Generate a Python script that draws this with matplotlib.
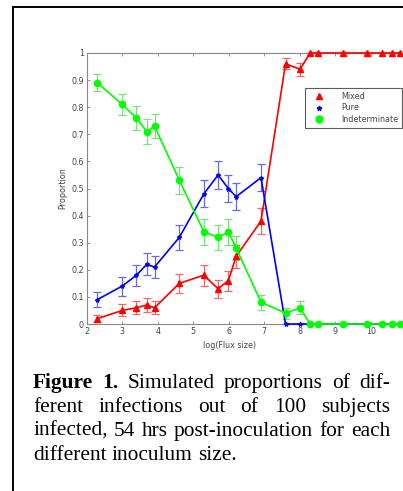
import numpy as np
from matplotlib import pyplot as plt
from matplotlib.lines import Line2D

# log(Flux size) values of the simulated inocula
log_flux = [2.30, 3.00, 3.40, 3.69, 3.91, 4.61, 5.30, 5.70, 5.99, 6.21,
            6.91, 7.60, 8.01, 8.29, 8.52, 9.21, 9.90, 10.31, 10.60, 10.82]

mixed = [0.02, 0.05, 0.06, 0.07, 0.06, 0.15, 0.18, 0.13, 0.16, 0.25,
         0.38, 0.96, 0.94, 1.0, 1.0, 1.0, 1.0, 1.0, 1.0, 1.0]
mixed_err = [0.014, 0.022, 0.024, 0.026, 0.024, 0.036, 0.038, 0.034, 0.037, 0.043,
             0.049, 0.02, 0.024, 0, 0, 0, 0, 0, 0, 0]

pure = [0.09, 0.14, 0.18, 0.22, 0.21, 0.32, 0.48, 0.55, 0.50, 0.47,
        0.54, 0.0, 0.0, 0.0, 0.0, 0.0, 0.0, 0.0, 0.0, 0.0]
pure_err = [0.029, 0.035, 0.038, 0.041, 0.041, 0.047, 0.05, 0.05, 0.05, 0.05,
            0.05, 0, 0, 0, 0, 0, 0, 0, 0, 0]

indet = [0.89, 0.81, 0.76, 0.71, 0.73, 0.53, 0.34, 0.32, 0.34, 0.28,
         0.08, 0.04, 0.06, 0.0, 0.0, 0.0, 0.0, 0.0, 0.0, 0.0]
indet_err = [0.031, 0.039, 0.043, 0.045, 0.044, 0.05, 0.047, 0.047, 0.047, 0.045,
             0.027, 0.02, 0.024, 0, 0, 0, 0, 0, 0, 0]

x_ticks = [2, 3, 4, 5, 6, 7, 8, 9, 10]
y_ticks = [0, 0.1, 0.2, 0.3, 0.4, 0.5, 0.6, 0.7, 0.8, 0.9, 1]
y_tick_labels = ['0', '0.1', '0.2', '0.3', '0.4', '0.5', '0.6', '0.7', '0.8', '0.9', '1']

caption_lines = [
    [('Figure', 'bold'), ('1.', 'bold'), ('Simulated', 'normal'), ('proportions', 'normal'),
     ('of', 'normal'), ('dif-', 'normal')],
    [('ferent', 'normal'), ('infections', 'normal'), ('out', 'normal'), ('of', 'normal'),
     ('100', 'normal'), ('subjects', 'normal')],
    [('infected,', 'normal'), ('54', 'normal'), ('hrs', 'normal'), ('post-inoculation', 'normal'),
     ('for', 'normal'), ('each', 'normal')],
    [('different', 'normal'), ('inoculum', 'normal'), ('size.', 'normal')],
]

W, H = 403, 491
fig = plt.figure(figsize=(W / 100, H / 100), dpi=100)
fig.patch.set_facecolor('white')

# axes: x=2 at 86.7px, 35.5px per unit; y=0 at 324px, y=1 at 53px
ax_left = 86.7
ax_right = ax_left + 9 * 35.5
ax_top, ax_bottom = 53, 324
ax = fig.add_axes([ax_left / W, 1 - ax_bottom / H,
                   (ax_right - ax_left) / W, (ax_bottom - ax_top) / H])

series = [
    (mixed, mixed_err, 'r', '^', 4.5, '#e86a6a', 'Mixed'),
    (pure, pure_err, 'b', '*', 3, '#6a6ae0', 'Pure'),
    (indet, indet_err, '#00ff00', 'o', 4.5, '#7ae07a', 'Indeterminate'),
]
handles = []
for vals, errs, col, mk, ms, ecol, lab in series:
    ax.errorbar(log_flux, vals, yerr=errs, fmt='none', ecolor=ecol, elinewidth=0.9,
                capsize=2.8, capthick=0.9, clip_on=False)
    ax.plot(log_flux, vals, color=col, linewidth=1.2, marker=mk, markersize=ms,
            clip_on=False, zorder=3)
    handles.append(Line2D([], [], color=col, marker=mk, linestyle='none',
                          markersize=ms + 0.5, label=lab))

ax.set_xlim(2, 11)
ax.set_ylim(0, 1)
ax.set_xticks(x_ticks)
ax.set_yticks(y_ticks)
ax.set_yticklabels(y_tick_labels)
ax.tick_params(direction='in', length=2.5, width=0.6, colors='#888888',
               labelcolor='#444444', labelsize=5.8, pad=2, top=True, right=True)
for sp in ax.spines.values():
    sp.set_color('#888888')
    sp.set_linewidth(0.8)

ax.set_ylabel('Proportion', fontsize=5.8, color='#444444', labelpad=3)
fig.text(230 / W, 1 - 345 / H, 'log(Flux size)', fontsize=5.8, color='#444444',
         ha='center', va='center')

leg = ax.legend(handles=handles, loc='upper left',
                bbox_to_anchor=((301 - ax_left) / (ax_right - ax_left), (ax_bottom - 84) / (ax_bottom - ax_top)),
                fontsize=5.8, frameon=True, fancybox=False, borderpad=0.45,
                handletextpad=1.5, labelspacing=0.35, handlelength=2.6)
leg.get_frame().set_edgecolor('#333333')
leg.get_frame().set_linewidth(0.8)
for t in leg.get_texts():
    t.set_color('#444444')

# page border
fig.add_artist(Line2D([13 / W, 13 / W], [0, 1 - 7 / H], color='black', linewidth=1.4,
                      transform=fig.transFigure))
fig.add_artist(Line2D([13 / W, 1], [1 - 7 / H, 1 - 7 / H], color='black', linewidth=1.4,
                      transform=fig.transFigure))

# justified caption
renderer = fig.canvas.get_renderer()
x0, x1 = 33, 390
baselines = [388, 412, 436, 460]
cap_size = 15.4
for i, (words, yb) in enumerate(zip(caption_lines, baselines)):
    texts = []
    for w, weight in words:
        t = fig.text(0, 1 - yb / H, w, fontsize=cap_size, fontweight=weight,
                     family='Liberation Serif', va='baseline', ha='left')
        texts.append(t)
    widths = [t.get_window_extent(renderer).width for t in texts]
    if i < len(caption_lines) - 1:
        gap = (x1 - x0 - sum(widths)) / (len(texts) - 1)
    else:
        gap = 0.25 * cap_size * 100 / 72
    x = x0
    for t, w in zip(texts, widths):
        t.set_x(x / W)
        x += w + gap

fig.savefig('out.png', dpi=100)
